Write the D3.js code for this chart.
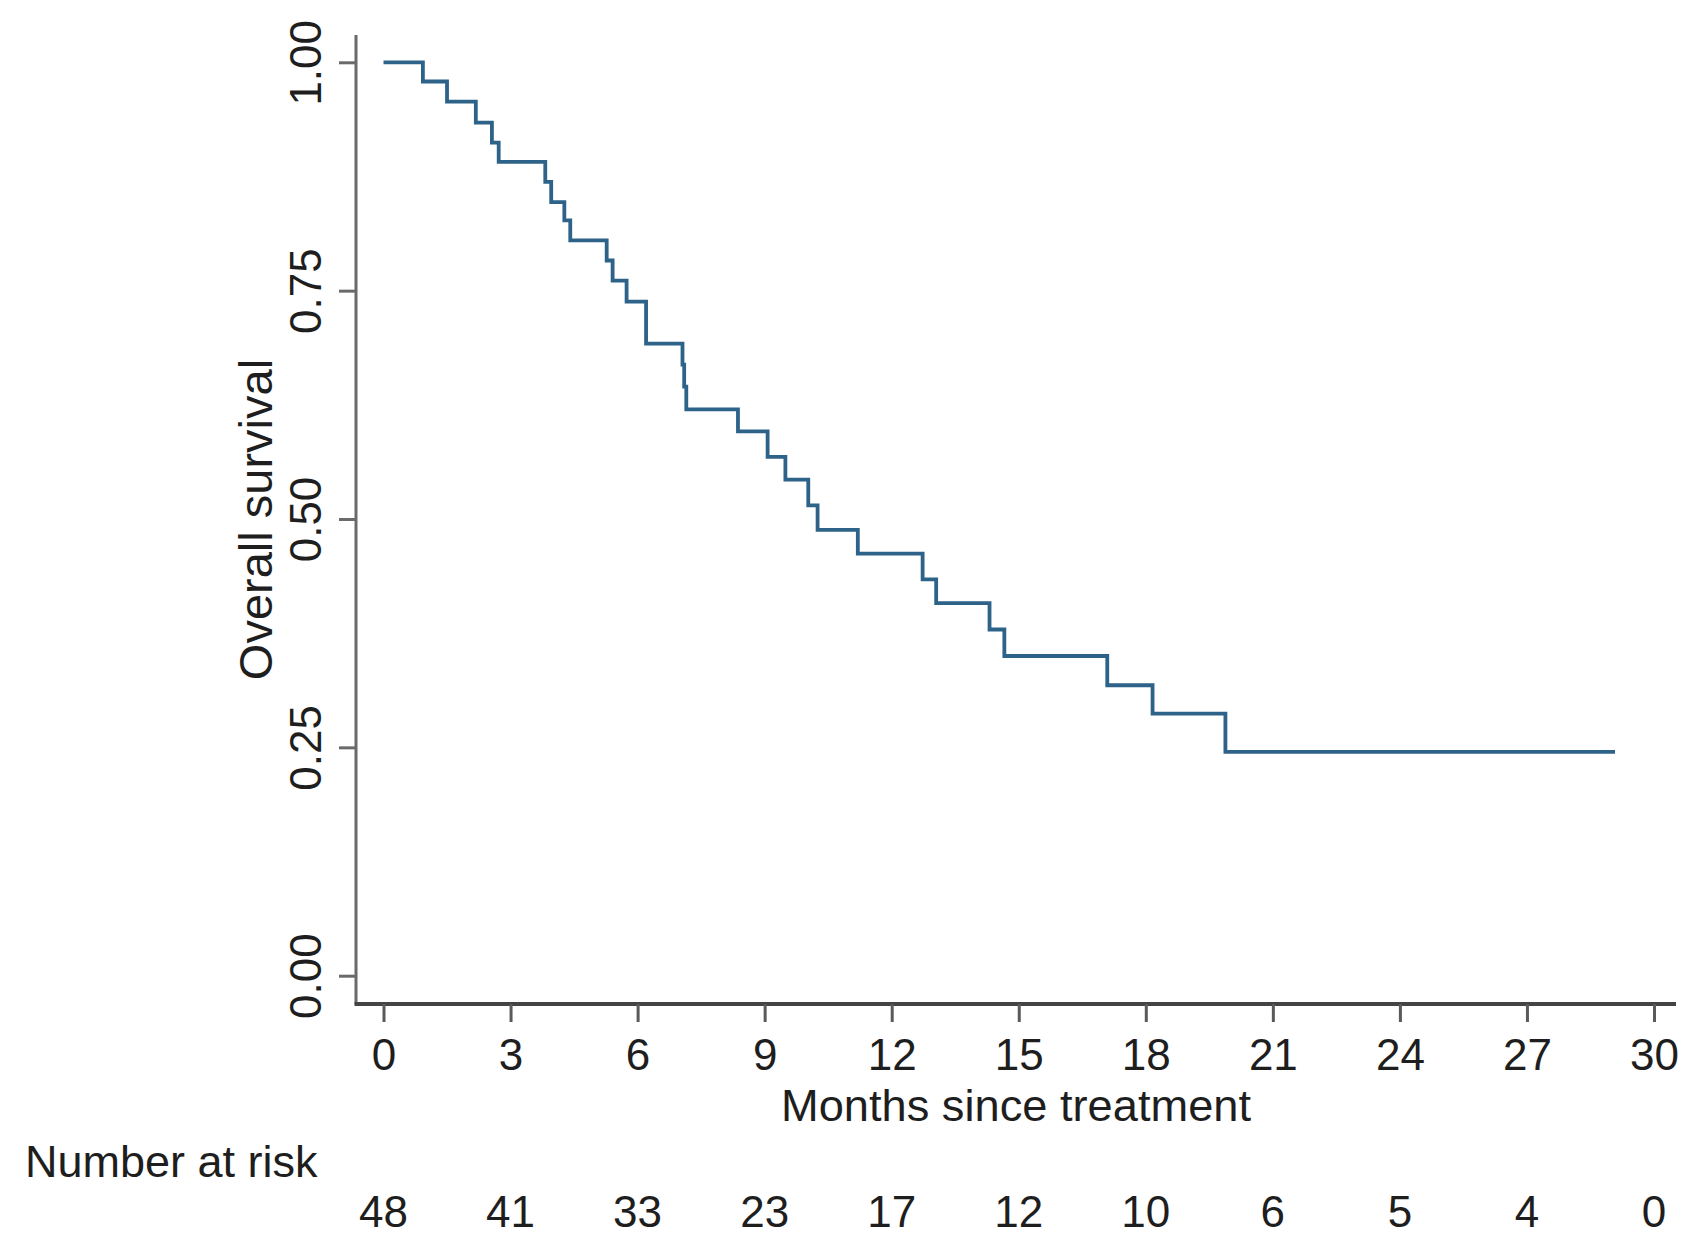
<!DOCTYPE html>
<html>
<head>
<meta charset="utf-8">
<script src="https://cdn.jsdelivr.net/npm/d3@7"></script>
<style>
  html, body { margin: 0; padding: 0; background: #fff; }
  svg { display: block; }
  text { font-family: "Liberation Sans", Arial, Helvetica, sans-serif; fill: #1e1e1e; }
</style>
</head>
<body>
<svg id="chart" width="1708" height="1255"></svg>
<script>
// ---- Data ----
const eventMonths = [0, 0.93, 1.50, 2.18, 2.56, 2.72, 3.82, 3.96, 4.27, 4.41, 5.27, 5.41, 5.74, 6.20,
                     7.06, 7.10, 7.15, 8.37, 9.07, 9.49, 10.03, 10.25, 11.20, 12.73, 13.05, 14.31,
                     14.66, 17.09, 18.16, 19.88, 29.08];
const survival = [1.000, 0.979, 0.957, 0.934, 0.912, 0.891, 0.869, 0.847, 0.827, 0.805, 0.783, 0.761, 0.738, 0.692,
                  0.669, 0.645, 0.620, 0.596, 0.568, 0.543, 0.515, 0.488, 0.462, 0.434, 0.408, 0.379,
                  0.350, 0.318, 0.287, 0.245, 0.245];
const xTicks = [0, 3, 6, 9, 12, 15, 18, 21, 24, 27, 30];
const yTicks = [0, 0.25, 0.5, 0.75, 1.0];
const yTickLabels = ["0.00", "0.25", "0.50", "0.75", "1.00"];
const numberAtRisk = [48, 41, 33, 23, 17, 12, 10, 6, 5, 4, 0];
const xTitle = "Months since treatment";
const yTitle = "Overall survival";
const riskTitle = "Number at risk";

(function () {
  const svg = d3.select("#chart");
  const pLeft = 356, pRight = 1676, pTop = 35, pBottom = 1004;
  // x(0) = 383.5, x(30) = 1654 ; y(0) = 975.7, y(1) = 62.3
  const x = d3.scaleLinear().domain([0, 30]).range([383.5, 1654]);
  const y = d3.scaleLinear().domain([0, 1]).range([975.7, 62.3]);
  const FS = 44;

  // Y axis (domain line drawn to plot extent)
  svg.append("line")
    .attr("x1", pLeft).attr("x2", pLeft).attr("y1", pTop).attr("y2", pBottom)
    .attr("stroke", "#6a6a6a").attr("stroke-width", 3);
  const yAxisG = svg.append("g").attr("transform", `translate(${pLeft},0)`)
    .call(d3.axisLeft(y).tickValues(yTicks).tickSize(17).tickSizeOuter(0)
          .tickFormat((d, i) => yTickLabels[i]));
  yAxisG.select(".domain").remove();
  yAxisG.selectAll(".tick line").attr("stroke", "#6a6a6a").attr("stroke-width", 3);
  yAxisG.selectAll(".tick text")
    .attr("x", 0).attr("y", 0).attr("dy", 0)
    .attr("text-anchor", "middle")
    .attr("transform", "translate(-35,0) rotate(-90)")
    .style("font-size", FS + "px")
    .style("font-family", "'Liberation Sans', Arial, sans-serif")
    .attr("fill", "#1e1e1e");

  // X axis
  svg.append("line")
    .attr("x1", pLeft - 1.5).attr("x2", pRight).attr("y1", pBottom).attr("y2", pBottom)
    .attr("stroke", "#444").attr("stroke-width", 4);
  const xAxisG = svg.append("g").attr("transform", `translate(0,${pBottom})`)
    .call(d3.axisBottom(x).tickValues(xTicks).tickSize(18).tickSizeOuter(0));
  xAxisG.select(".domain").remove();
  xAxisG.selectAll(".tick line").attr("stroke", "#5a5a5a").attr("stroke-width", 3);
  xAxisG.selectAll(".tick text")
    .attr("y", 66).attr("dy", 0)
    .style("font-size", FS + "px")
    .style("font-family", "'Liberation Sans', Arial, sans-serif")
    .attr("fill", "#1e1e1e");

  // Axis titles
  svg.append("text")
    .attr("x", (pLeft + pRight) / 2).attr("y", 1121)
    .attr("text-anchor", "middle")
    .style("font-size", "44px")
    .attr("textLength", 470).attr("lengthAdjust", "spacingAndGlyphs")
    .text(xTitle);

  svg.append("text")
    .attr("transform", `translate(272,${(pTop + pBottom) / 2}) rotate(-90)`)
    .attr("text-anchor", "middle")
    .style("font-size", "47px")
    .text(yTitle);

  // Number at risk table
  svg.append("text")
    .attr("x", 25).attr("y", 1177)
    .style("font-size", "45px")
    .text(riskTitle);

  svg.append("g").selectAll("text")
    .data(numberAtRisk)
    .join("text")
    .attr("x", (d, i) => x(xTicks[i]))
    .attr("y", 1227)
    .attr("text-anchor", "middle")
    .style("font-size", FS + "px")
    .text(d => d);

  // Survival curve
  const pts = eventMonths.map((t, i) => [t, survival[i]]);
  const line = d3.line()
    .x(d => x(d[0]))
    .y(d => y(d[1]))
    .curve(d3.curveStepAfter);

  svg.append("path")
    .datum(pts)
    .attr("d", line)
    .attr("fill", "none")
    .attr("stroke", "#2d6289")
    .attr("stroke-width", 3.8)
    .attr("stroke-linejoin", "miter")
    .attr("stroke-linecap", "butt");
})();
</script>
</body>
</html>
